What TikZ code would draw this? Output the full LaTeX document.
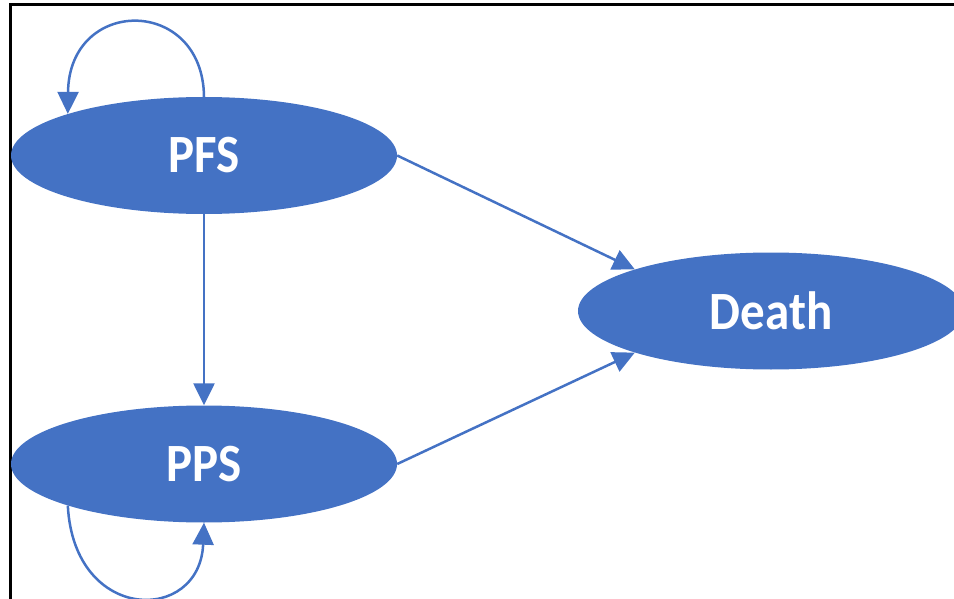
\documentclass[tikz,border=0pt]{standalone}
\usepackage{fontspec}
\setmainfont{Carlito}
\usetikzlibrary{shapes.geometric,arrows.meta}
\definecolor{msblue}{HTML}{4472C4}
\newcommand{\tallbox}[1]{\scalebox{1}[1.1]{#1}}
\tikzset{
  state/.style={ellipse, fill=msblue, draw=none, inner sep=0pt,
    minimum width=386pt, minimum height=117pt, text=white,
    font=\fontsize{49}{49}\selectfont\bfseries},
  conn/.style={draw=msblue, line width=2.5pt,
    -{Triangle[length=22pt,width=21pt]}},
  frameline/.style={draw=black, line width=2.4pt}
}
\begin{document}
\begin{tikzpicture}[x=1pt,y=-1pt]
\useasboundingbox (0,0) rectangle (954,599);
\clip (0,0) rectangle (954,599);
\draw[frameline] (10.3,4.5) -- (960,4.5);
\draw[frameline] (10.3,3.3) -- (10.3,605);
\node[state] (pfs) at (204,155.5) {\tallbox{PFS}};
\node[state] (pps) at (204,464) {\tallbox{PPS}};
\node[state] (death) at (771,311) {\tallbox{Death}};
\draw[conn] (pfs.south) -- (pps.north);
\draw[conn] (pfs.east) -- (death.163);
\draw[conn] (pps.east) -- (death.197);
\draw[conn] (pfs.north) .. controls (203,-4) and (69,-4) .. (pfs.163);
\draw[conn] (pps.197) .. controls (74,624) and (200,624) .. (pps.south);
\end{tikzpicture}
\end{document}
